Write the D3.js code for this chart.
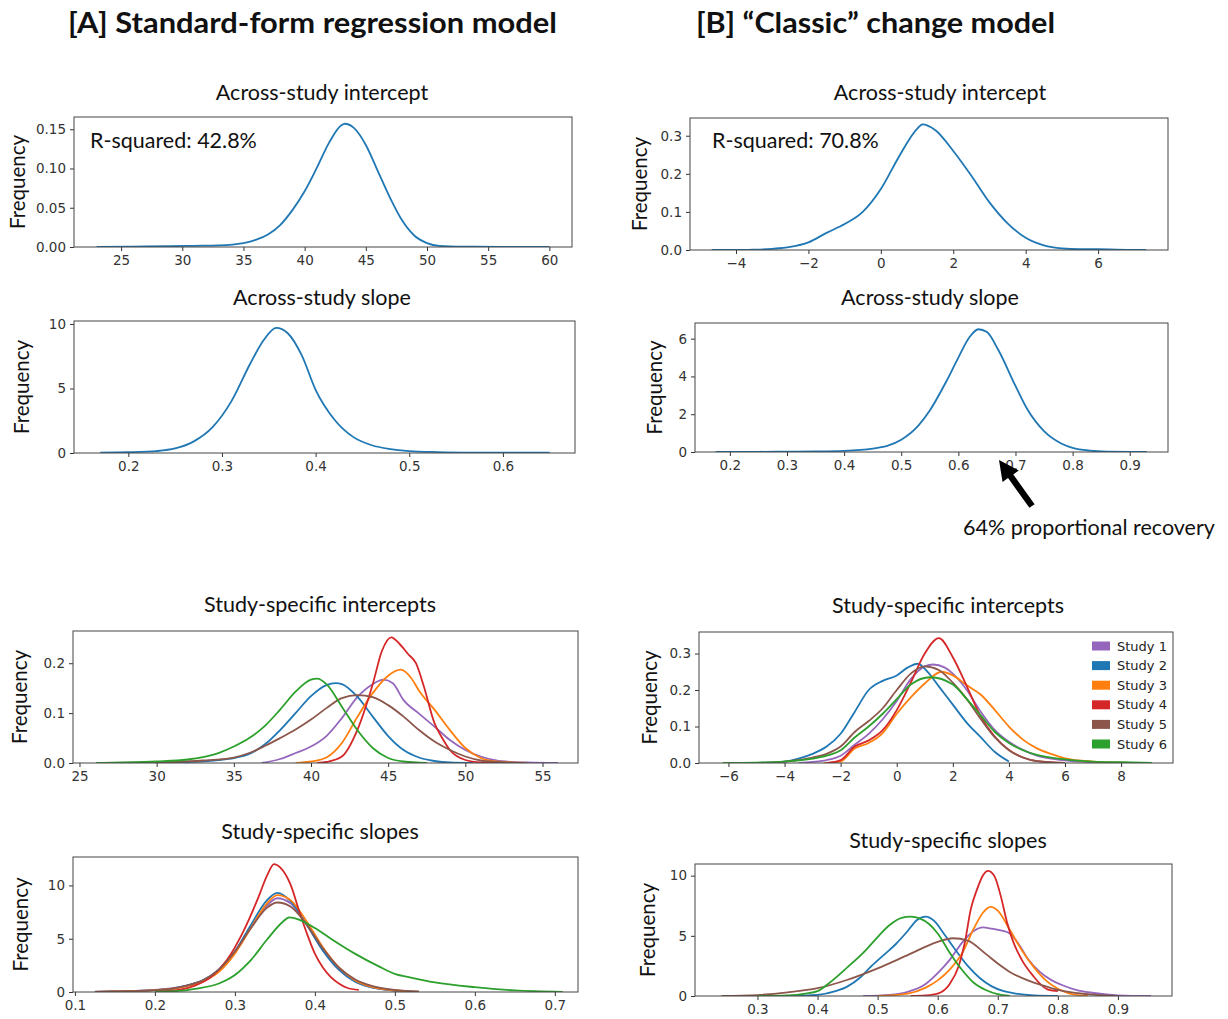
<!DOCTYPE html>
<html><head><meta charset="utf-8">
<script src="https://cdn.jsdelivr.net/npm/d3@7"></script>
<style>body{margin:0;background:#fff}svg{display:block}</style>
</head><body>
<svg id="chart" width="1228" height="1019"></svg>
<script>
// ---------- DATA ----------
const studyNames = ["Study 1","Study 2","Study 3","Study 4","Study 5","Study 6"];
const studyColors = ["#9467bd","#1f77b4","#ff7f0e","#d62728","#8c564b","#2ca02c"];

// [A] across-study intercept
const aIntX = [23,26,29,31,33,35,36,37,38,39,40,41,42,43,43.3,44,45,46,47,48,49,50,51,53,56,60];
const aIntY = [0,0.0005,0.001,0.0015,0.002,0.005,0.009,0.016,0.028,0.047,0.071,0.101,0.133,0.155,0.157,0.152,0.130,0.096,0.062,0.033,0.014,0.005,0.0015,0.0005,0.0002,0];
// [B] across-study intercept
const bIntX = [-4.67,-4,-3.5,-3,-2.5,-2,-1.5,-1,-0.5,0,0.5,1,1.15,1.5,2,2.5,3,3.5,4,4.5,5,5.5,6,6.5,7.33];
const bIntY = [0,0.0003,0.001,0.003,0.008,0.02,0.045,0.068,0.1,0.16,0.245,0.318,0.33,0.315,0.26,0.195,0.125,0.07,0.032,0.012,0.004,0.002,0.002,0.001,0];
// [A] across-study slope
const aSlpX = [0.17,0.2,0.23,0.25,0.27,0.29,0.31,0.33,0.345,0.358,0.37,0.385,0.4,0.42,0.44,0.46,0.48,0.5,0.53,0.57,0.62,0.65];
const aSlpY = [0.03,0.06,0.15,0.35,0.9,2.0,4.0,6.9,8.8,9.7,9.3,7.6,4.9,2.6,1.25,0.6,0.3,0.15,0.07,0.03,0.02,0.02];
// [B] across-study slope
const bSlpX = [0.175,0.25,0.3,0.35,0.4,0.45,0.5,0.53,0.55,0.58,0.6,0.62,0.635,0.65,0.67,0.7,0.72,0.75,0.78,0.8,0.83,0.86,0.93];
const bSlpY = [0,0.01,0.02,0.03,0.06,0.18,0.65,1.4,2.2,3.8,5.0,6.1,6.5,6.35,5.4,3.5,2.3,1.1,0.45,0.22,0.07,0.02,0];

// [A] study-specific intercepts (Study 1..6)
const aSI1X = [36.8,38,39,40,41,42,43,44,44.7,45.3,46,47,48,49,50,51,52,53,54,56];
const aSI1Y = [0,0.008,0.02,0.033,0.054,0.09,0.132,0.158,0.167,0.16,0.126,0.099,0.073,0.046,0.026,0.013,0.005,0.002,0.001,0];
const aSI2X = [30,32,34,35,36,37,38,39,40,41,41.6,42,43,44,45,46,47,48,49,50.5];
const aSI2Y = [0,0.002,0.006,0.01,0.018,0.037,0.066,0.1,0.134,0.156,0.16,0.158,0.133,0.093,0.054,0.026,0.011,0.004,0.001,0];
const aSI3X = [39,40,41,42,43,44,45,45.8,46.5,47,48,49,50,51,52,54];
const aSI3Y = [0,0.003,0.011,0.04,0.092,0.14,0.175,0.187,0.17,0.145,0.107,0.066,0.03,0.01,0.003,0];
const aSI4X = [40.4,41,42,43,44,44.6,45.2,45.7,46.3,46.8,47.3,48,48.5,49,50,51,52];
const aSI4Y = [0,0.002,0.013,0.066,0.158,0.225,0.252,0.24,0.218,0.2,0.155,0.08,0.05,0.026,0.006,0.001,0];
const aSI5X = [26.1,29,31,33,35,36,37,38,39,40,41,42,43,44,45,46,47,48,49,50,51,52,54];
const aSI5Y = [0,0.001,0.002,0.005,0.011,0.02,0.034,0.05,0.067,0.087,0.11,0.13,0.136,0.132,0.116,0.093,0.066,0.043,0.026,0.013,0.005,0.002,0];
const aSI6X = [26.1,28,30,32,33,34,35,36,37,38,39,40,40.4,41,42,43,44,45,46,47.5];
const aSI6Y = [0,0.001,0.003,0.007,0.012,0.02,0.033,0.05,0.074,0.107,0.143,0.167,0.169,0.158,0.113,0.066,0.03,0.01,0.003,0];

// [B] study-specific intercepts
const bSI1X = [-3.5,-3,-2.5,-2,-1.5,-1,-0.5,0,0.5,1,1.3,1.7,2,2.5,3,3.5,4,4.5,5,6,7,8];
const bSI1Y = [0,0.003,0.008,0.02,0.05,0.08,0.12,0.17,0.23,0.265,0.27,0.262,0.245,0.2,0.14,0.09,0.058,0.036,0.02,0.007,0.002,0];
const bSI2X = [-5,-4,-3.5,-3,-2.5,-2,-1.5,-1,-0.5,0,0.4,0.75,1.1,1.5,2,2.5,3,3.5,4];
const bSI2Y = [0,0.004,0.012,0.025,0.045,0.08,0.14,0.2,0.225,0.24,0.262,0.272,0.25,0.21,0.16,0.11,0.07,0.03,0.004];
const bSI3X = [-2.6,-2,-1.5,-1,-0.5,0,0.5,1,1.6,2,2.5,3,3.5,4,4.5,5,5.5,6,7,8,9];
const bSI3Y = [0,0.004,0.04,0.055,0.082,0.135,0.18,0.218,0.25,0.24,0.213,0.187,0.145,0.1,0.064,0.04,0.025,0.013,0.004,0.001,0];
const bSI4X = [-2.5,-2,-1.5,-1,-0.5,0,0.5,1,1.5,2,2.5,3,3.5,4,4.5,5,6];
const bSI4Y = [0,0.008,0.045,0.062,0.09,0.145,0.22,0.3,0.342,0.29,0.21,0.127,0.072,0.036,0.015,0.005,0];
const bSI5X = [-5,-4,-3,-2.5,-2,-1.5,-1,-0.5,0,0.5,1,1.5,2,2.5,3,3.5,4,4.5,5,6];
const bSI5Y = [0,0.004,0.015,0.025,0.045,0.085,0.115,0.15,0.2,0.245,0.265,0.255,0.22,0.175,0.12,0.07,0.035,0.015,0.005,0];
const bSI6X = [-6.2,-5,-4,-3,-2.5,-2,-1.5,-1,-0.5,0,0.5,1.2,2,2.5,3,3.5,4,4.5,5,6,7,8,9.1];
const bSI6Y = [0,0.001,0.004,0.012,0.02,0.035,0.07,0.1,0.135,0.175,0.215,0.235,0.215,0.175,0.13,0.085,0.055,0.035,0.022,0.01,0.004,0.002,0];

// [A] study-specific slopes
const aSSX = [0.125,0.15,0.18,0.2,0.22,0.24,0.26,0.28,0.3,0.32,0.34,0.353,0.37,0.39,0.41,0.43,0.45,0.47,0.49,0.51,0.53];
const aSS1Y = [0.03,0.06,0.12,0.2,0.33,0.62,1.1,2.1,3.7,6.0,8.1,8.8,8.3,6.3,3.9,2.1,1.0,0.45,0.2,0.08,0.02];
const aSS2Y = [0.02,0.05,0.1,0.18,0.3,0.6,1.1,2.1,3.8,6.3,8.6,9.3,8.5,6.3,3.9,2.1,1.0,0.45,0.2,0.08,0.03];
const aSS3Y = [0.02,0.05,0.1,0.17,0.28,0.55,1.0,1.9,3.6,6.0,8.3,9.1,8.6,6.6,4.2,2.3,1.1,0.5,0.22,0.09,0.03];
const aSS5Y = [0.02,0.05,0.1,0.18,0.3,0.6,1.1,2.1,3.8,6.0,7.9,8.4,8.0,6.3,4.1,2.3,1.2,0.6,0.3,0.12,0.04];
const aSS4X = [0.2,0.23,0.25,0.27,0.29,0.31,0.33,0.34,0.349,0.36,0.37,0.38,0.39,0.4,0.41,0.42,0.43,0.44,0.455];
const aSS4Y = [0.05,0.2,0.6,1.4,3.0,5.6,9.0,10.9,12.0,11.4,10.0,7.7,5.5,3.6,2.3,1.4,0.8,0.4,0.2];
const aSS6X = [0.2,0.23,0.25,0.28,0.3,0.32,0.34,0.36,0.368,0.38,0.4,0.42,0.45,0.48,0.5,0.52,0.55,0.6,0.65,0.71];
const aSS6Y = [0.02,0.1,0.3,0.8,1.6,3.0,4.9,6.6,7.0,6.8,6.0,5.0,3.6,2.4,1.7,1.35,0.9,0.45,0.15,0.02];

// [B] study-specific slopes
const bSS1X = [0.476,0.52,0.55,0.58,0.6,0.62,0.64,0.66,0.675,0.69,0.705,0.72,0.735,0.75,0.77,0.79,0.81,0.83,0.86,0.9,0.955];
const bSS1Y = [0,0.1,0.35,1.0,1.9,3.0,4.4,5.4,5.7,5.6,5.45,5.2,4.3,3.1,2.0,1.3,0.85,0.5,0.25,0.06,0];
const bSS2X = [0.35,0.4,0.43,0.45,0.47,0.49,0.51,0.53,0.55,0.565,0.58,0.595,0.61,0.63,0.65,0.67,0.69,0.71,0.73,0.76,0.8];
const bSS2Y = [0,0.1,0.4,0.8,1.5,2.5,3.4,4.3,5.4,6.3,6.6,6.2,5.2,3.8,2.5,1.5,0.8,0.4,0.2,0.05,0];
const bSS3X = [0.5,0.55,0.58,0.6,0.62,0.64,0.66,0.675,0.688,0.7,0.72,0.74,0.76,0.78,0.8,0.82,0.85];
const bSS3Y = [0,0.2,0.7,1.3,2.2,3.5,5.6,6.9,7.4,7.1,5.5,3.8,2.4,1.3,0.6,0.2,0];
const bSS4X = [0.555,0.58,0.6,0.62,0.635,0.645,0.655,0.665,0.675,0.684,0.695,0.705,0.715,0.725,0.74,0.76,0.775,0.785,0.8];
const bSS4Y = [0,0.05,0.2,1.0,2.5,4.4,7.2,8.8,10.0,10.4,9.9,8.3,6.2,4.6,3.0,1.6,0.8,0.5,0.4];
const bSS5X = [0.24,0.3,0.35,0.4,0.45,0.5,0.55,0.6,0.625,0.65,0.68,0.7,0.72,0.75,0.78,0.8,0.85,0.9];
const bSS5Y = [0,0.08,0.3,0.65,1.35,2.3,3.4,4.5,4.8,4.6,3.5,2.7,2.0,1.3,0.8,0.5,0.15,0];
const bSS6X = [0.3,0.35,0.38,0.4,0.42,0.45,0.48,0.5,0.52,0.54,0.555,0.57,0.585,0.6,0.62,0.64,0.66,0.68,0.7,0.72];
const bSS6Y = [0,0.05,0.2,0.4,1.1,2.4,3.8,4.9,5.9,6.5,6.6,6.45,6.0,5.2,3.6,2.2,1.1,0.5,0.15,0];

// tick values
const aIntXTicks = [25,30,35,40,45,50,55,60];
const aIntYTicks = [0,0.05,0.10,0.15];
const bIntXTicks = [-4,-2,0,2,4,6];
const bIntYTicks = [0,0.1,0.2,0.3];
const aSlpXTicks = [0.2,0.3,0.4,0.5,0.6];
const aSlpYTicks = [0,5,10];
const bSlpXTicks = [0.2,0.3,0.4,0.5,0.6,0.7,0.8,0.9];
const bSlpYTicks = [0,2,4,6];
const aSIXTicks = [25,30,35,40,45,50,55];
const aSIYTicks = [0,0.1,0.2];
const bSIXTicks = [-6,-4,-2,0,2,4,6,8];
const bSIYTicks = [0,0.1,0.2,0.3];
const aSSXTicks = [0.1,0.2,0.3,0.4,0.5,0.6,0.7];
const aSSYTicks = [0,5,10];
const bSSXTicks = [0.3,0.4,0.5,0.6,0.7,0.8,0.9];
const bSSYTicks = [0,5,10];

const blue = "#1f77b4";
const zip = (xs, ys) => xs.map((x,i)=>({x, y: ys[i]}));

// ---------- LAYOUT ----------
const panels = [
 {title:"Across-study intercept", box:[74,117,572,247], tx:322, ty:100, xd:[21.15,61.85], yd:[0,0.1656],
  xt:aIntXTicks, yt:aIntYTicks, xf:d3.format("d"), yf:d3.format(".2f"), flx:17,
  series:[{pts:zip(aIntX,aIntY), c:blue}], note:"R-squared: 42.8%", nx:90, ny:148},
 {title:"Across-study intercept", box:[690,118,1168,250], tx:940, ty:100, xd:[-5.27,7.93], yd:[0,0.3465],
  xt:bIntXTicks, yt:bIntYTicks, xf:d3.format("d"), yf:d3.format(".1f"), flx:639,
  series:[{pts:zip(bIntX,bIntY), c:blue}], note:"R-squared: 70.8%", nx:712, ny:148},
 {title:"Across-study slope", box:[74,321,575,453], tx:322, ty:305, xd:[0.142,0.677], yd:[0,10.23],
  xt:aSlpXTicks, yt:aSlpYTicks, xf:d3.format(".1f"), yf:d3.format("d"), flx:21,
  series:[{pts:zip(aSlpX,aSlpY), c:blue}]},
 {title:"Across-study slope", box:[695,323,1168,452], tx:930, ty:305, xd:[0.139,0.967], yd:[0,6.83],
  xt:bSlpXTicks, yt:bSlpYTicks, xf:d3.format(".1f"), yf:d3.format("d"), flx:654,
  series:[{pts:zip(bSlpX,bSlpY), c:blue}]},
 {title:"Study-specific intercepts", box:[73,631,578,763], tx:320, ty:612, xd:[24.58,57.3], yd:[0,0.2646],
  xt:aSIXTicks, yt:aSIYTicks, xf:d3.format("d"), yf:d3.format(".1f"), flx:19,
  series:[[aSI1X,aSI1Y],[aSI2X,aSI2Y],[aSI3X,aSI3Y],[aSI4X,aSI4Y],[aSI5X,aSI5Y],[aSI6X,aSI6Y]].map((s,i)=>({pts:zip(s[0],s[1]), c:studyColors[i]}))},
 {title:"Study-specific intercepts", box:[699,632,1173,763], tx:948, ty:613, xd:[-7.05,9.85], yd:[0,0.359],
  xt:bSIXTicks, yt:bSIYTicks, xf:d3.format("d"), yf:d3.format(".1f"), flx:649, legend:true,
  series:[[bSI1X,bSI1Y],[bSI2X,bSI2Y],[bSI3X,bSI3Y],[bSI4X,bSI4Y],[bSI5X,bSI5Y],[bSI6X,bSI6Y]].map((s,i)=>({pts:zip(s[0],s[1]), c:studyColors[i]}))},
 {title:"Study-specific slopes", box:[73,857,578,992], tx:320, ty:839, xd:[0.0976,0.729], yd:[0,12.67],
  xt:aSSXTicks, yt:aSSYTicks, xf:d3.format(".1f"), yf:d3.format("d"), flx:20,
  series:[[aSSX,aSS1Y],[aSSX,aSS2Y],[aSSX,aSS3Y],[aSS4X,aSS4Y],[aSSX,aSS5Y],[aSS6X,aSS6Y]].map((s,i)=>({pts:zip(s[0],s[1]), c:studyColors[i]}))},
 {title:"Study-specific slopes", box:[695,864,1172,996], tx:948, ty:848, xd:[0.196,0.99], yd:[0,10.97],
  xt:bSSXTicks, yt:bSSYTicks, xf:d3.format(".1f"), yf:d3.format("d"), flx:647,
  series:[[bSS1X,bSS1Y],[bSS2X,bSS2Y],[bSS3X,bSS3Y],[bSS4X,bSS4Y],[bSS5X,bSS5Y],[bSS6X,bSS6Y]].map((s,i)=>({pts:zip(s[0],s[1]), c:studyColors[i]}))}
];

const FONT = "Lato, 'Open Sans', sans-serif";
const TICKFONT = "'DejaVu Sans', sans-serif";
const svg = d3.select("#chart");
svg.append("rect").attr("width",1228).attr("height",1019).attr("fill","#fff");

// headings
svg.append("text").attr("x",68).attr("y",33).attr("font-family",FONT).attr("font-weight",700)
  .attr("font-size",29).attr("fill","#111").attr("textLength",489).attr("lengthAdjust","spacingAndGlyphs")
  .text("[A] Standard-form regression model");
svg.append("text").attr("x",696).attr("y",33).attr("font-family",FONT).attr("font-weight",700)
  .attr("font-size",29).attr("fill","#111").attr("textLength",359).attr("lengthAdjust","spacingAndGlyphs")
  .text("[B] \u201CClassic\u201D change model");

panels.forEach(p => {
  const [l,t,r,b] = p.box;
  const x = d3.scaleLinear().domain(p.xd).range([l,r]);
  const y = d3.scaleLinear().domain(p.yd).range([b,t]);
  const g = svg.append("g");

  g.append("text").attr("x",p.tx).attr("y",p.ty).attr("text-anchor","middle")
    .attr("font-family",FONT).attr("font-size",21.5).attr("fill","#111").text(p.title);

  const clipId = "clip" + l + "_" + t;
  g.append("clipPath").attr("id",clipId).append("rect").attr("x",l).attr("y",t-2).attr("width",r-l).attr("height",b-t+2);

  const line = d3.line().x(d=>x(d.x)).y(d=>y(d.y)).curve(d3.curveMonotoneX);
  const lg = g.append("g").attr("clip-path","url(#"+clipId+")");
  p.series.forEach(s => {
    lg.append("path").attr("d",line(s.pts)).attr("fill","none").attr("stroke",s.c)
      .attr("stroke-width",1.8).attr("stroke-linejoin","round");
  });

  const xa = g.append("g").attr("transform",`translate(0,${b})`)
    .call(d3.axisBottom(x).tickValues(p.xt).tickFormat(p.xf).tickSizeOuter(0).tickSize(4).tickPadding(4));
  const ya = g.append("g").attr("transform",`translate(${l},0)`)
    .call(d3.axisLeft(y).tickValues(p.yt).tickFormat(p.yf).tickSizeOuter(0).tickSize(4).tickPadding(4));
  [xa,ya].forEach(a => {
    a.select(".domain").remove();
    a.selectAll("line").attr("stroke","#333");
    a.selectAll("text").attr("font-family",TICKFONT).attr("font-size",13.5).attr("fill","#333");
  });
  g.append("rect").attr("x",l).attr("y",t).attr("width",r-l).attr("height",b-t)
    .attr("fill","none").attr("stroke","#444").attr("stroke-width",1);

  g.append("text").attr("transform",`translate(${p.flx},${(t+b)/2}) rotate(-90)`)
    .attr("text-anchor","middle").attr("dominant-baseline","central")
    .attr("font-family",FONT).attr("font-size",20.5).attr("fill","#111").text("Frequency");

  if (p.note) {
    g.append("text").attr("x",p.nx).attr("y",p.ny).attr("font-family",FONT).attr("font-size",21.5)
      .attr("fill","#111").text(p.note);
  }
  if (p.legend) {
    const lgd = g.append("g");
    studyNames.forEach((n,i) => {
      const yy = 646 + i*19.6;
      lgd.append("rect").attr("x",1092).attr("y",yy-4.5).attr("width",18).attr("height",9).attr("fill",studyColors[i]);
      lgd.append("text").attr("x",1117).attr("y",yy).attr("dominant-baseline","central")
        .attr("font-family",TICKFONT).attr("font-size",13).attr("fill","#222").text(n);
    });
  }
});

// annotation arrow + text
const arr = svg.append("g");
const tip = [999,460], tail = [1032,506];
const ang = Math.atan2(tail[1]-tip[1], tail[0]-tip[0]);
const hl = 20, hw = 10, sw = 3.2;
const px = -Math.sin(ang), py = Math.cos(ang);
const bx = tip[0] + Math.cos(ang)*hl, by = tip[1] + Math.sin(ang)*hl;
arr.append("polygon").attr("fill","#000").attr("points",[
  tip,
  [bx+px*hw, by+py*hw],
  [bx+px*sw, by+py*sw],
  [tail[0]+px*sw, tail[1]+py*sw],
  [tail[0]-px*sw, tail[1]-py*sw],
  [bx-px*sw, by-py*sw],
  [bx-px*hw, by-py*hw]
].map(d=>d.join(",")).join(" "));
svg.append("text").attr("x",963).attr("y",535).attr("font-family",FONT).attr("font-size",21.5)
  .attr("fill","#111").text("64% proportional recovery");
</script>
</body></html>
